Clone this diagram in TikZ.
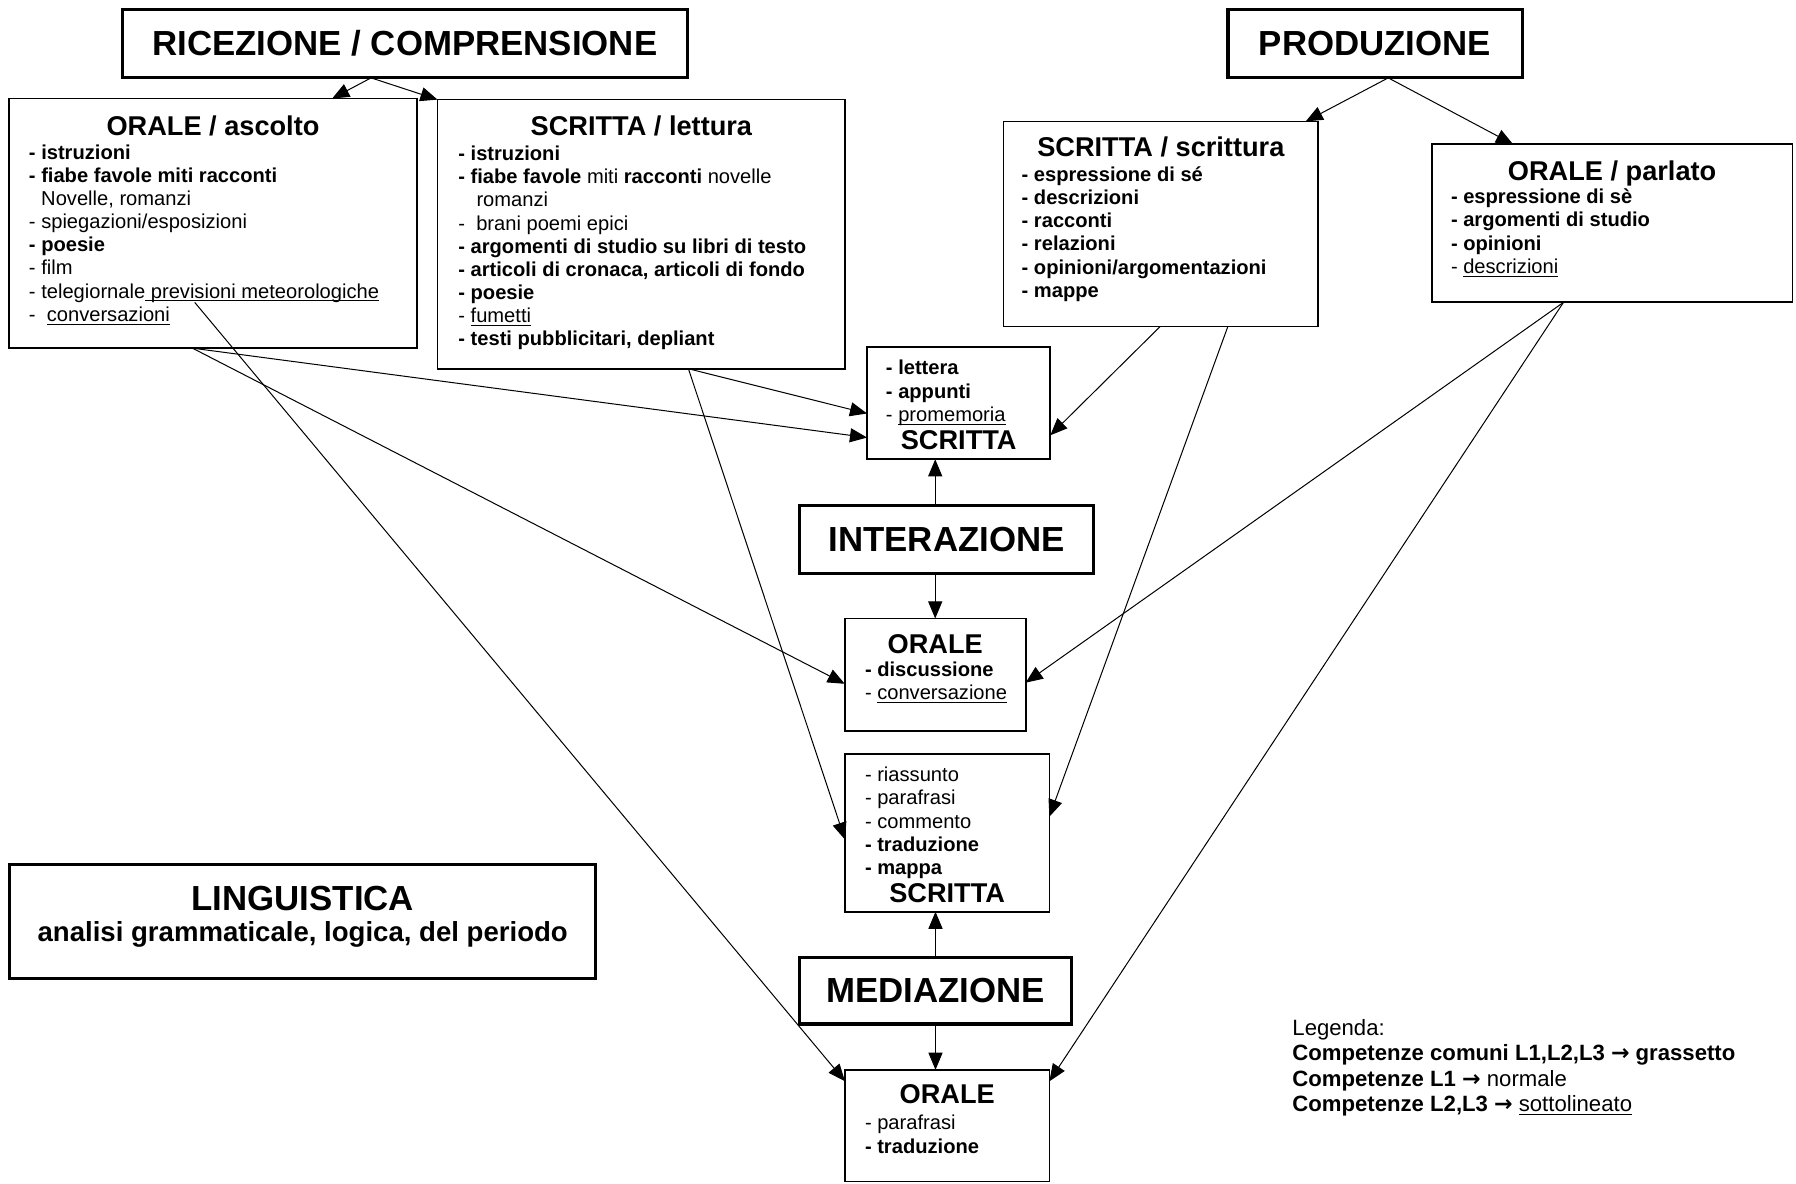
\documentclass[tikz,border=0pt]{standalone}
\usepackage{fontspec}
\setmainfont{Liberation Sans}
\newfontfamily\simboli{DejaVu Sans}
\usetikzlibrary{arrows.meta}
\usetikzlibrary{positioning}
\usetikzlibrary{calc}

\newcommand{\corpo}{\fontsize{10}{11.5}\selectfont}
\newcommand{\testa}{\fontsize{13.5}{14}\selectfont\bfseries}
\newcommand{\titolofont}{\fontsize{17.3}{20}\selectfont\bfseries}
\newcommand{\sott}[1]{\underline{\smash{#1}}}

\tikzstyle{titolo}=[draw,line width=1.6pt,inner sep=0pt,outer sep=0pt,anchor=north west,font=\titolofont]
\tikzstyle{riquadro}=[draw,line width=0.85pt,inner sep=0pt,outer sep=0pt,anchor=north west]
\tikzstyle{freccia}=[-{Triangle[length=8.5pt,width=7pt]},line width=0.5pt]

\begin{document}
\begin{tikzpicture}[x=0.02cm,y=-0.02cm]
\useasboundingbox (0,0) rectangle (1568,1033);

% titoli
\node[titolo,minimum width=9.86cm,minimum height=1.2cm] (rc) at (107,8) {RICEZIONE / COMPRENSIONE};
\node[titolo,minimum width=5.14cm,minimum height=1.2cm] (pr) at (1072,8) {PRODUZIONE};
\node[titolo,minimum width=5.14cm,minimum height=1.19cm] (ia) at (698,441) {INTERAZIONE};
\node[titolo,minimum width=4.75cm,minimum height=1.16cm] (me) at (698,836) {MEDIAZIONE};
\node[titolo] (li) at (8.6,755) {\parbox[t][1.98cm][t]{10.23cm}{\centering\rule{0pt}{0.79cm}LINGUISTICA\par
  \fontsize{13.7}{15.6}\selectfont analisi grammaticale, logica, del periodo}};

% ricezione
\node[riquadro] (oa) at (8,86) {\parbox[t][4.36cm][t]{7.12cm}{\centering{\testa\rule{0pt}{0.638cm}ORALE / ascolto\par}
  \raggedright\leftskip=0.346cm\corpo\vspace{0.5pt}
  \textbf{- istruzioni}\\
  \textbf{- fiabe favole miti racconti}\\
  \hspace*{6.1pt}Novelle, romanzi\\
  - spiegazioni/esposizioni\\
  \textbf{- poesie}\\
  - film\\
  - telegiornale\sott{\ previsioni meteorologiche}\\
  -\ \ \sott{conversazioni}}};
\node[riquadro] (sl) at (382,87) {\parbox[t][4.7cm][t]{7.12cm}{\centering{\testa\rule{0pt}{0.618cm}SCRITTA / lettura\par}
  \raggedright\leftskip=0.364cm\corpo\vspace{1.2pt}
  \textbf{- istruzioni}\\
  \textbf{- fiabe favole} miti \textbf{racconti} novelle\\
  \hspace*{9pt}romanzi\\
  -\ \ brani poemi epici\\
  \textbf{- argomenti di studio su libri di testo}\\
  \textbf{- articoli di cronaca, articoli di fondo}\\
  \textbf{- poesie}\\
  - \sott{fumetti}\\
  \textbf{- testi pubblicitari, depliant}}};

% produzione
\node[riquadro] (ss) at (876,106) {\parbox[t][3.58cm][t]{5.5cm}{\centering{\testa\rule{0pt}{0.62cm}SCRITTA / scrittura\par}
  \raggedright\leftskip=0.32cm\corpo\bfseries\vspace{0.7pt}
  - espressione di sé\\
  - descrizioni\\
  - racconti\\
  - relazioni\\
  - opinioni/argomentazioni\\
  - mappe}};
\node[riquadro] (op) at (1250,126) {\parbox[t][2.76cm][t]{6.3cm}{\centering{\testa\rule{0pt}{0.634cm}ORALE / parlato\par}
  \raggedright\leftskip=0.336cm\corpo
  \textbf{- espressione di sè}\\
  \textbf{- argomenti di studio}\\
  \textbf{- opinioni}\\
  - \sott{descrizioni}}};

% interazione
\node[riquadro] (si) at (757,303) {\parbox[t][1.96cm][t]{3.2cm}{\raggedright\leftskip=0.33cm\corpo
  \rule{0pt}{0.488cm}\textbf{- lettera}\\
  \textbf{- appunti}\\
  - \sott{promemoria}\par
  \centering\testa SCRITTA}};
\node[riquadro] (oi) at (737.5,540) {\parbox[t][1.96cm][t]{3.16cm}{\centering{\testa\rule{0pt}{0.608cm}ORALE\par}
  \raggedright\leftskip=0.354cm\corpo
  \textbf{- discussione}\\
  - \sott{conversazione}}};

% mediazione
\node[riquadro] (sm) at (737.7,658) {\parbox[t][2.76cm][t]{3.57cm}{\raggedright\leftskip=0.35cm\corpo
  \rule{0pt}{0.49cm}- riassunto\\
  - parafrasi\\
  - commento\\
  \textbf{- traduzione}\\
  \textbf{- mappa}\par
  \centering\testa SCRITTA}};
\node[riquadro] (om) at (737.7,934) {\parbox[t][1.95cm][t]{3.57cm}{\centering{\testa\rule{0pt}{0.586cm}ORALE\par}
  \raggedright\leftskip=0.35cm\corpo\vspace{1.7pt}
  - parafrasi\\
  \textbf{- traduzione}}};

% legenda
\node[inner sep=0pt,anchor=north west] (leg) at (1128,887) {\parbox[t]{8.5cm}{\fontsize{11}{12.65}\selectfont\rule{0pt}{0.332cm}Legenda:\\
  \textbf{Competenze comuni L1,L2,L3 {\simboli →} grassetto}\\
  \textbf{Competenze L1 {\simboli →}} normale\\
  \textbf{Competenze L2,L3 {\simboli →}} \sott{sottolineato}}};

% frecce
\draw[freccia] ($(rc.south west)+(217,0)$) -- ($(oa.north west)+(282,0)$);
\draw[freccia] ($(rc.south west)+(217,0)$) -- (sl.north west);
\draw[freccia] ($(pr.south west)+(140,0)$) -- ($(ss.north east)+(-11,0)$);
\draw[freccia] ($(pr.south west)+(140,0)$) -- ($(op.north west)+(71,0)$);
\draw[freccia] ($(oa.south west)+(160,0)$) -- ($(si.north west)+(0,79)$);
\draw[freccia] ($(oa.south west)+(160,0)$) -- ($(oi.north west)+(0,57)$);
\draw[freccia] ($(oa.north west)+(162,178)$) -- ($(om.north west)+(0,10)$);
\draw[freccia] ($(sl.south west)+(219,0)$) -- ($(si.north west)+(0,58)$);
\draw[freccia] ($(sl.south west)+(219,0)$) -- ($(sm.north west)+(0,75)$);
\draw[freccia] ($(ss.south west)+(137,0)$) -- ($(si.north east)+(0,77)$);
\draw[freccia] ($(ss.south west)+(196,0)$) -- ($(sm.north east)+(0,55)$);
\draw[freccia] ($(op.south west)+(115,0)$) -- ($(oi.north east)+(0,56)$);
\draw[freccia] ($(op.south west)+(115,0)$) -- ($(om.north east)+(0,10)$);
\draw[freccia] (ia.north -| oi.north) -- (si.south -| oi.north);
\draw[freccia] (ia.south -| oi.north) -- (oi.north);
\draw[freccia] (me.north) -- (sm.south -| me.north);
\draw[freccia] (me.south) -- (om.north -| me.south);

\end{tikzpicture}
\end{document}
